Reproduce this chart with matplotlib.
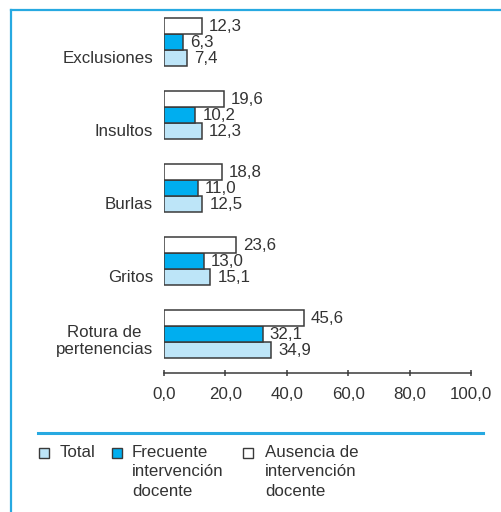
import numpy as np
import matplotlib
matplotlib.use("Agg")
import matplotlib.pyplot as plt
from matplotlib.patches import Rectangle
from matplotlib.lines import Line2D

plt.rcParams['font.family'] = ['Liberation Sans', 'DejaVu Sans']

# categories listed top to bottom
categories = ["Exclusiones", "Insultos", "Burlas", "Gritos", "Rotura de\npertenencias"]
total = [7.4, 12.3, 12.5, 15.1, 34.9]
frecuente = [6.3, 10.2, 11.0, 13.0, 32.1]
ausencia = [12.3, 19.6, 18.8, 23.6, 45.6]
series_labels = ["Total", "Frecuente\nintervención\ndocente", "Ausencia de\nintervención\ndocente"]
xticks = [0, 20, 40, 60, 80, 100]

light_blue = "#bde5f8"
blue = "#00aeef"
line_blue = "#27a9e1"
edge = "#3a3a3a"
text_col = "#333333"
fs = 12.2

W, H = 502, 512
fig = plt.figure(figsize=(W / 100, H / 100), dpi=100)


def fx(px):
    return px / W


def fy(py):
    return 1 - py / H


# axes: x=0 at 164px, x=100 at 471px; bottom spine at 373px
ax = fig.add_axes([fx(164), fy(373), fx(471) - fx(164), fy(14) - fy(373)])

n = len(categories)
centers = np.arange(n)[::-1].astype(float)  # top category highest
h = 16 / 73

bar_kw = dict(height=h, edgecolor=edge, linewidth=1.1, align="center")
ax.barh(centers - h, total, color=light_blue, **bar_kw)
ax.barh(centers, frecuente, color=blue, **bar_kw)
ax.barh(centers + h, ausencia, color="white", **bar_kw)


def fmt(v):
    return f"{v:.1f}".replace(".", ",")


for ys, vals in [(centers - h, total), (centers, frecuente), (centers + h, ausencia)]:
    for y, v in zip(ys, vals):
        ax.annotate(fmt(v), xy=(v, y), xytext=(5, 0), textcoords="offset points",
                    ha="left", va="center", fontsize=fs, color=text_col)

# category labels, last line level with the Total bar
for y, lab in zip(centers - h, categories):
    nl = lab.count("\n")
    ax.annotate(lab, xy=(0, y), xytext=(-8, nl * 6.5), textcoords="offset points",
                ha="right", va="center", fontsize=fs, color=text_col,
                multialignment="center", linespacing=1.2)

ax.set_xlim(0, 100)
ax.set_ylim(-0.534, 4 + 28 / 73)
ax.set_xticks(xticks)
ax.set_xticklabels([fmt(t) for t in xticks], fontsize=fs, color=text_col)
ax.set_yticks([])
for s in ["left", "right", "top"]:
    ax.spines[s].set_visible(False)
ax.spines["bottom"].set_color(edge)
ax.spines["bottom"].set_linewidth(1.1)
ax.tick_params(axis="x", direction="inout", length=4.5, width=1.1, color=edge, pad=8)
ax.patch.set_alpha(0)

# frame lines
fig.add_artist(Line2D([fx(11), fx(11)], [fy(10), 0], transform=fig.transFigure,
                      color=line_blue, linewidth=1.6))
fig.add_artist(Line2D([fx(11), 1], [fy(10), fy(10)], transform=fig.transFigure,
                      color=line_blue, linewidth=1.6))
fig.add_artist(Line2D([fx(38), fx(483)], [fy(433), fy(433)], transform=fig.transFigure,
                      color=line_blue, linewidth=2.2))

# legend
leg_colors = [light_blue, blue, "white"]
box_x = [39, 112, 243]
text_x = [60, 132, 265]
for bx, tx, c, lab in zip(box_x, text_x, leg_colors, series_labels):
    fig.add_artist(Rectangle((fx(bx), fy(458)), 10 / W, 10 / H, transform=fig.transFigure,
                             facecolor=c, edgecolor=edge, linewidth=1.0))
    fig.text(fx(tx), fy(445), lab, ha="left", va="top", fontsize=fs, color=text_col,
             linespacing=1.37)

fig.savefig("out.png", dpi=100)
